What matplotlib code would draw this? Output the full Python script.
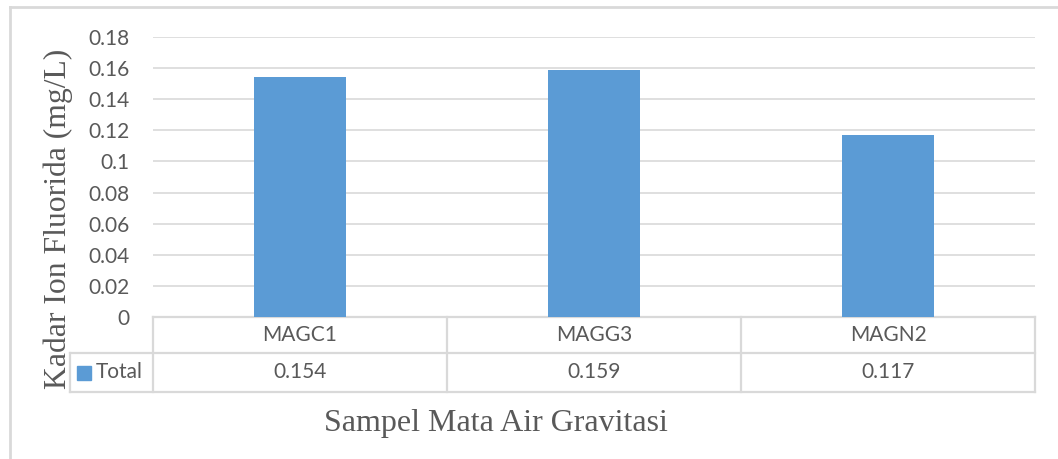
import matplotlib
matplotlib.use("Agg")
import matplotlib.pyplot as plt
from matplotlib.lines import Line2D
from matplotlib.patches import Rectangle

categories = ["MAGC1", "MAGG3", "MAGN2"]
values = [0.154, 0.159, 0.117]
value_labels = ["0.154", "0.159", "0.117"]
series_name = "Total"
y_ticks = [0, 0.02, 0.04, 0.06, 0.08, 0.1, 0.12, 0.14, 0.16, 0.18]
y_tick_labels = ["0", "0.02", "0.04", "0.06", "0.08", "0.1", "0.12", "0.14", "0.16", "0.18"]

BAR = "#5B9BD5"
GRID = "#D9D9D9"
TXT = "#595959"
SANS = ["Lato", "DejaVu Sans"]
SERIF = ["Liberation Serif", "DejaVu Serif"]

W, H = 1058, 459
fig = plt.figure(figsize=(W / 100, H / 100), dpi=100)

# plot area in pixels
left, right, top, bottom = 153, 1035, 37, 317
ax = fig.add_axes([left / W, 1 - bottom / H, (right - left) / W, (bottom - top) / H])

x = list(range(len(categories)))
ax.bar(x, values, width=0.313, color=BAR, zorder=3)
ax.set_xlim(-0.5, len(categories) - 0.5)
ax.set_ylim(0, 0.18)
ax.set_yticks(y_ticks)
ax.set_yticklabels(y_tick_labels, fontfamily=SANS, fontsize=15, color=TXT)
ax.tick_params(axis="y", length=0, pad=17)
ax.set_xticks([])
for s in ax.spines.values():
    s.set_visible(False)
ax.yaxis.grid(True, color=GRID, linewidth=1.2)
ax.set_axisbelow(True)

# data table below the plot (axes coordinates)
r1 = (353 - bottom) / (bottom - top)
r2 = (392 - bottom) / (bottom - top)
leg_x = (70 - left) / (right - left)
lkw = dict(color=GRID, linewidth=1.6, transform=ax.transAxes, clip_on=False)
ax.add_line(Line2D([0, 1], [0, 0], **lkw))
ax.add_line(Line2D([leg_x, 1], [-r1, -r1], **lkw))
ax.add_line(Line2D([leg_x, 1], [-r2, -r2], **lkw))
ax.add_line(Line2D([leg_x, leg_x], [-r1, -r2], **lkw))
n = len(categories)
for i in range(n + 1):
    ax.add_line(Line2D([i / n, i / n], [0, -r2], **lkw))
for i, (c, v) in enumerate(zip(categories, value_labels)):
    cx = (i + 0.5) / n
    ax.text(cx, -r1 / 2, c, transform=ax.transAxes, ha="center", va="center",
            fontfamily=SANS, fontsize=15, color=TXT)
    ax.text(cx, -(r1 + r2) / 2, v, transform=ax.transAxes, ha="center", va="center",
            fontfamily=SANS, fontsize=15, color=TXT)

# legend key in the table
sq_w = 14 / (right - left)
sq_h = 14 / (bottom - top)
ymid = -(r1 + r2) / 2
ax.add_patch(Rectangle(((77 - left) / (right - left), ymid - sq_h / 2), sq_w, sq_h,
                       transform=ax.transAxes, color=BAR, clip_on=False))
ax.text((96 - left) / (right - left), ymid, series_name, transform=ax.transAxes,
        ha="left", va="center", fontfamily=SANS, fontsize=15, color=TXT)

# axis titles
fig.text(58 / W, 1 - 219 / H, "Kadar Ion Fluorida (mg/L)", rotation=90,
         ha="center", va="center", fontfamily=SERIF, fontsize=22.8, color=TXT)
fig.text(496 / W, 1 - 423 / H, "Sampel Mata Air Gravitasi",
         ha="center", va="center", fontfamily=SERIF, fontsize=23, color=TXT)

# chart border
fig.add_artist(Line2D([10 / W, 10 / W], [0, 1 - 7 / H], color=GRID, linewidth=2,
                      transform=fig.transFigure))
fig.add_artist(Line2D([10 / W, 1], [1 - 7 / H, 1 - 7 / H], color=GRID, linewidth=2,
                      transform=fig.transFigure))

fig.savefig("out.png", dpi=100)
